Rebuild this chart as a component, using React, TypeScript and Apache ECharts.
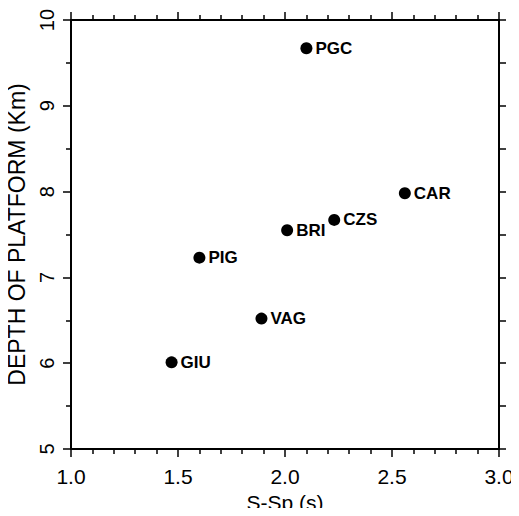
import React, { useEffect, useRef } from "react";
import * as echarts from "echarts";

const stations = ["PGC", "CAR", "CZS", "BRI", "PIG", "VAG", "GIU"];
const sSp = [2.1, 2.56, 2.23, 2.01, 1.6, 1.89, 1.47];
const depth = [9.67, 7.98, 7.67, 7.55, 7.23, 6.52, 6.01];

const FONT = "'Liberation Sans', Arial, Helvetica, sans-serif";

export default function App() {
  const ref = useRef<HTMLDivElement>(null);
  useEffect(() => {
    if (!ref.current) return;
    const chart = echarts.init(ref.current, undefined, { renderer: "svg" });
    const axisLine = { show: true, lineStyle: { color: "#000", width: 2 } };
    const tickStyle = { color: "#000", width: 1.5 };
    chart.setOption({
      animation: false,
      backgroundColor: "#fff",
      grid: {
        left: 71,
        right: 20,
        top: 20,
        bottom: 67,
        containLabel: false,
        outerBoundsMode: "none",
      },
      xAxis: [
        {
          type: "value",
          position: "bottom",
          min: 1,
          max: 3,
          interval: 0.5,
          name: "S-Sp (s)",
          nameLocation: "middle",
          nameGap: 42,
          nameTextStyle: { fontFamily: FONT, fontSize: 21, color: "#000" },
          axisLine,
          axisTick: { show: true, inside: false, length: 8, lineStyle: tickStyle },
          minorTick: { show: true, splitNumber: 5, length: 5, lineStyle: tickStyle },
          axisLabel: {
            fontFamily: FONT,
            fontSize: 21,
            color: "#000",
            margin: 17,
            formatter: (v: number) => v.toFixed(1),
          },
          splitLine: { show: false },
        },
        {
          type: "value",
          position: "top",
          min: 1,
          max: 3,
          interval: 0.5,
          axisLine,
          axisTick: { show: true, inside: false, length: 8, lineStyle: tickStyle },
          minorTick: { show: true, splitNumber: 5, length: 5, lineStyle: tickStyle },
          axisLabel: { show: false },
          splitLine: { show: false },
        },
      ],
      yAxis: [
        {
          type: "value",
          position: "left",
          min: 5,
          max: 10,
          interval: 1,
          name: "DEPTH OF PLATFORM (Km)",
          nameLocation: "middle",
          nameGap: 43,
          nameRotate: 90,
          nameTextStyle: { fontFamily: FONT, fontSize: 23, color: "#000" },
          axisLine,
          axisTick: { show: true, inside: false, length: 8, lineStyle: tickStyle },
          minorTick: { show: true, splitNumber: 2, length: 5, lineStyle: tickStyle },
          axisLabel: { fontFamily: FONT, fontSize: 20, color: "#000", rotate: 90, margin: 14 },
          splitLine: { show: false },
        },
        {
          type: "value",
          position: "right",
          min: 5,
          max: 10,
          interval: 0.5,
          axisLine,
          axisTick: { show: true, inside: false, length: 7, lineStyle: tickStyle },
          axisLabel: { show: false },
          splitLine: { show: false },
        },
      ],
      series: [
        {
          type: "scatter",
          xAxisIndex: 0,
          yAxisIndex: 0,
          symbol: "circle",
          symbolSize: 12,
          itemStyle: { color: "#000", opacity: 1 },
          label: {
            show: true,
            position: "right",
            distance: 3,
            formatter: (p: any) => p.data[2],
            fontFamily: FONT,
            fontSize: 17,
            fontWeight: "bold",
            color: "#000",
          },
          data: stations.map((s, i) => [sSp[i], depth[i], s]),
        },
      ],
    });
    return () => chart.dispose();
  }, []);
  return <div ref={ref} style={{ width: 519, height: 516, margin: -8 }} />;
}
